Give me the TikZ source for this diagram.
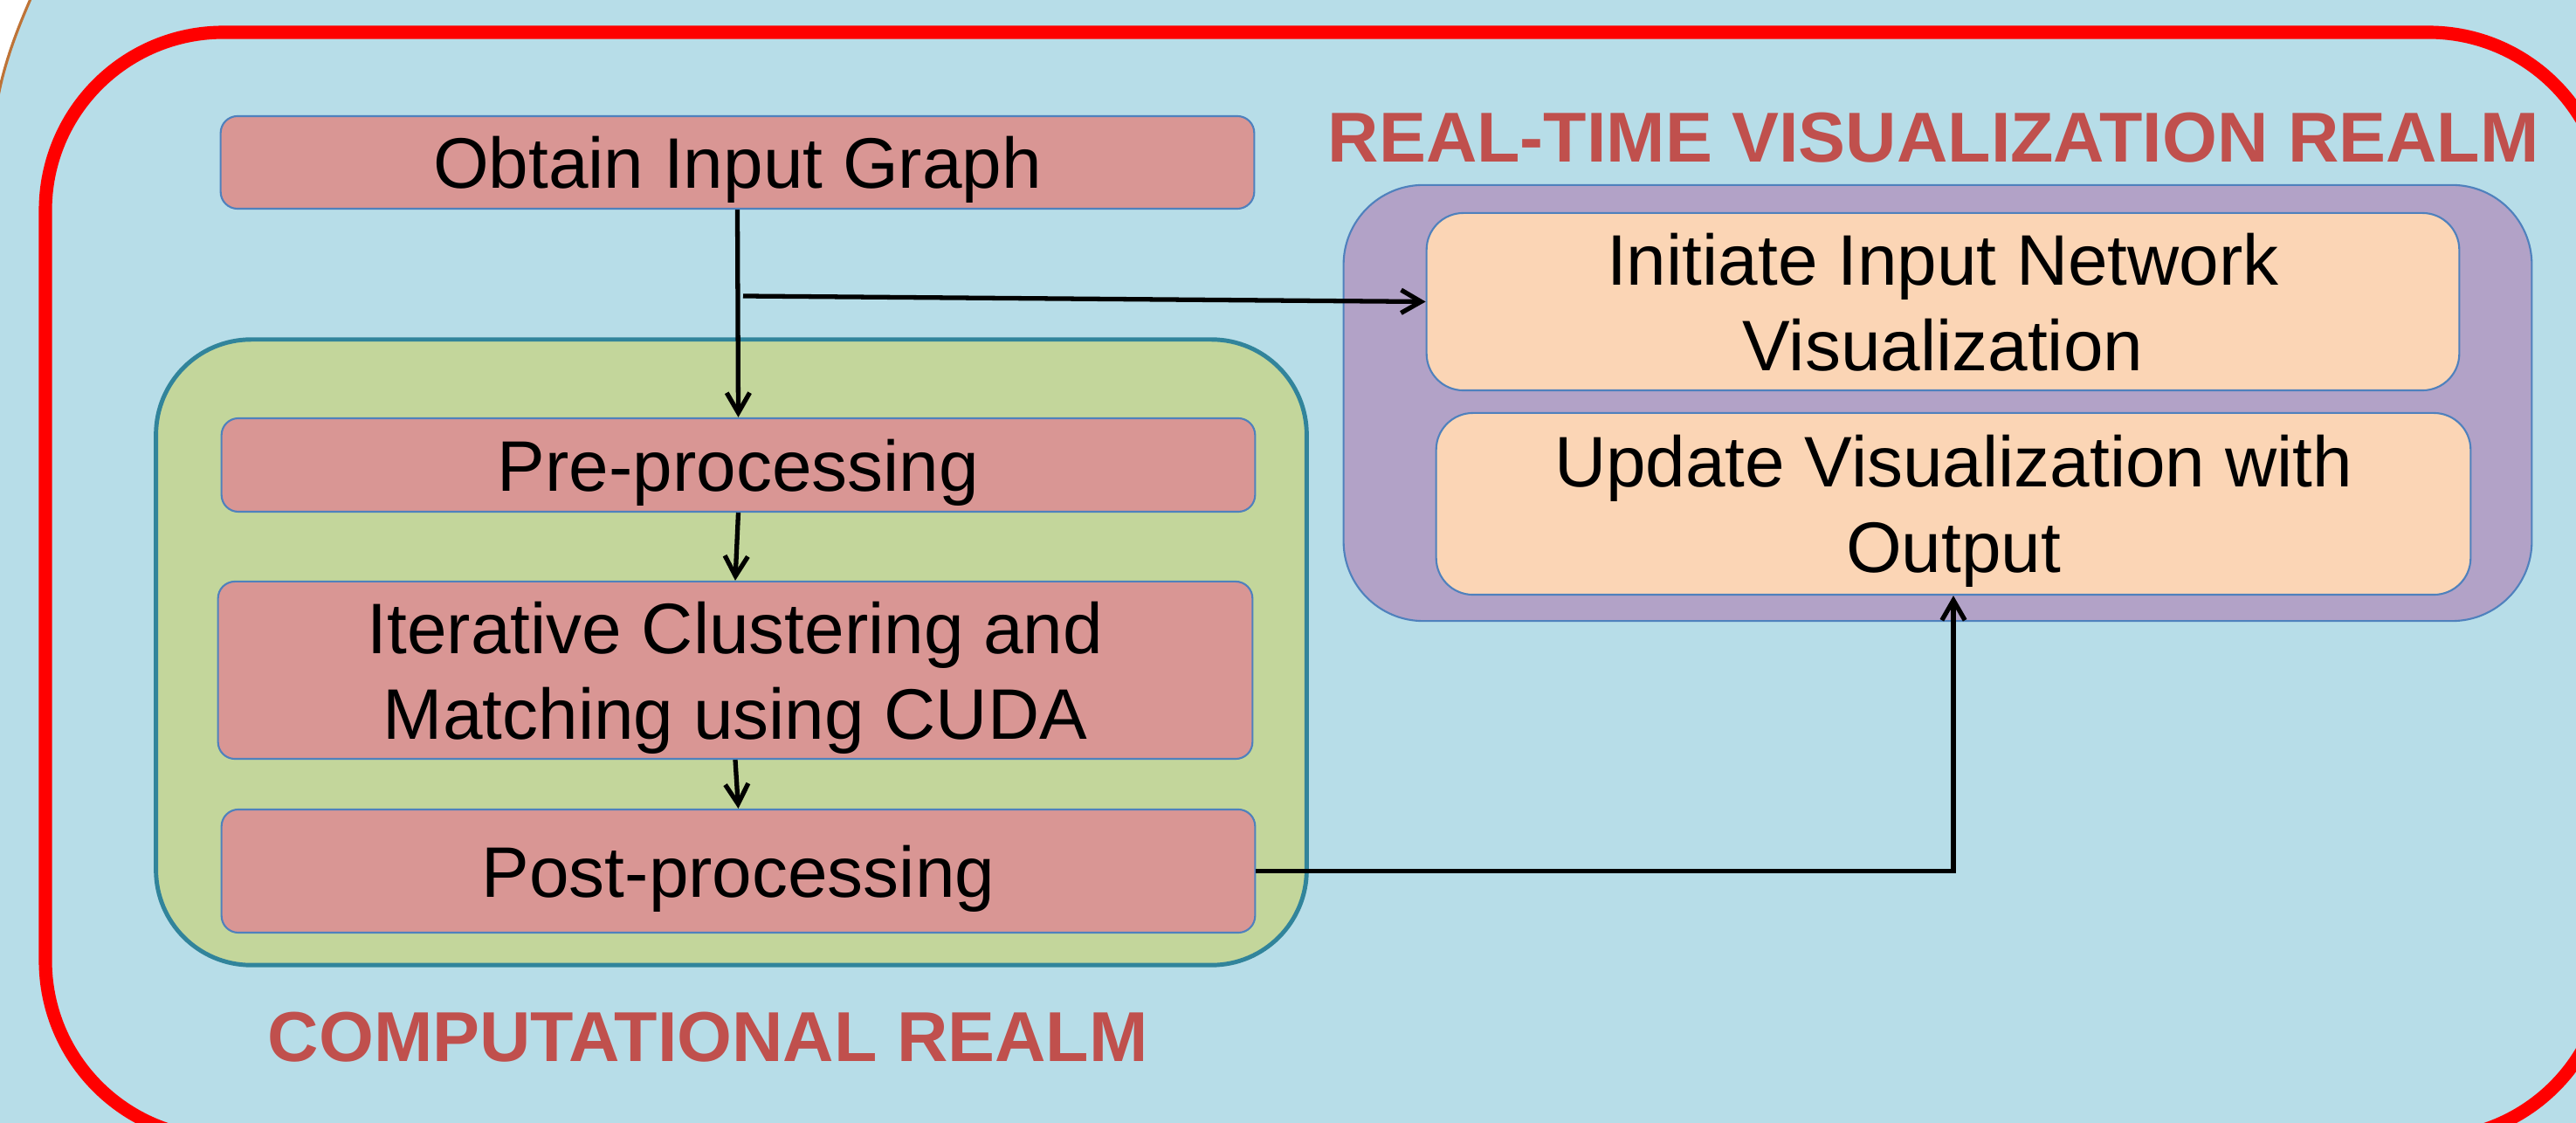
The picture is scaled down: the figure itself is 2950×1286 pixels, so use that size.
\documentclass[tikz,border=0pt]{standalone}
\usepackage{fontspec}
\setmainfont{Liberation Sans}
\usetikzlibrary{arrows.meta}
\definecolor{bgblue}{HTML}{B7DDE8}
\definecolor{framered}{HTML}{FF0000}
\definecolor{copper}{RGB}{190,115,55}
\definecolor{compgreen}{HTML}{C3D69B}
\definecolor{compedge}{HTML}{31849B}
\definecolor{vispurple}{HTML}{B2A2C7}
\definecolor{stepred}{HTML}{D99694}
\definecolor{vispeach}{HTML}{FBD5B5}
\definecolor{edgeblue}{HTML}{4F81BD}
\definecolor{labelred}{HTML}{C0504D}
\begin{document}
\begin{tikzpicture}[x=0.01cm,y=-0.01cm,
  stepbox/.style={draw=edgeblue, line width=0.6pt, fill=stepred, rounded corners=5.5pt,
    inner sep=0pt, text depth=0pt, align=center, minimum width=11.83cm,
    font=\fontsize{23.3}{27.9}\selectfont},
  visbox/.style={stepbox, fill=vispeach, rounded corners=12pt},
  realm/.style={inner sep=0pt},
  lbl/.style={inner sep=0pt, text=labelred, font=\bfseries\fontsize{23}{27.6}\selectfont},
  conn/.style={draw=black, line width=1.5pt, -{Straight Barb[length=6.5pt,width=7.5pt]}}
]
\useasboundingbox (0,0) rectangle (2950,1286);
\clip (0,0) rectangle (2950,1286);
% background
\fill[white] (0,0) rectangle (2950,1286);
\fill[bgblue] (38,-8) .. controls (22,28) and (6,68) .. (-2,110) -- (-10,1300) -- (2960,1300) -- (2960,-10) -- cycle;
\draw[copper, line width=0.9pt] (38,-8) .. controls (22,28) and (6,68) .. (-2,110);
% outer red frame
\draw[framered, line width=4.3pt, rounded corners=58pt] (52,37) rectangle (2985,1304);
% realms
\node[realm, draw=compedge, line width=1.4pt, fill=compgreen, rounded corners=31pt,
  minimum width=13.17cm, minimum height=7.16cm] (comp) at (837.5,747) {};
\node[realm, draw=edgeblue, line width=0.6pt, fill=vispurple, rounded corners=26pt,
  minimum width=13.60cm, minimum height=4.99cm] (vis) at (2219,461.5) {};
% step boxes
\node[stepbox, minimum height=1.06cm] (obtain) at (844.5,186) {Obtain Input Graph};
\node[stepbox, minimum height=1.07cm] (pre) at (845.5,532.5) {Pre-processing};
\node[stepbox, minimum width=11.84cm, minimum height=2.03cm] (iter) at (842,767.5) {Iterative Clustering and\\Matching using CUDA};
\node[stepbox, minimum height=1.41cm] (post) at (845.5,997.5) {Post-processing};
\node[visbox, minimum width=11.82cm, minimum height=2.03cm] (init) at (2225,345.5) {Initiate Input Network\\Visualization};
\node[visbox, minimum width=11.84cm, minimum height=2.08cm] (update) at (2237,577) {Update Visualization with\\Output};
% labels
\node[lbl, anchor=base west] (rtlabel) at (1520,186) {REAL-TIME VISUALIZATION REALM};
\node[lbl, anchor=base west] (complabel) at (306,1216) {COMPUTATIONAL REALM};
% connectors
\coordinate (br) at (851,339);
\draw[conn] (obtain.south) -- (pre.north);
\draw[conn] (br) -- (init.west);
\draw[conn] (pre.south) -- (iter.north);
\draw[conn] (iter.south) -- (post.north);
\draw[conn] (post.east) -| (update.south);
\end{tikzpicture}
\end{document}
